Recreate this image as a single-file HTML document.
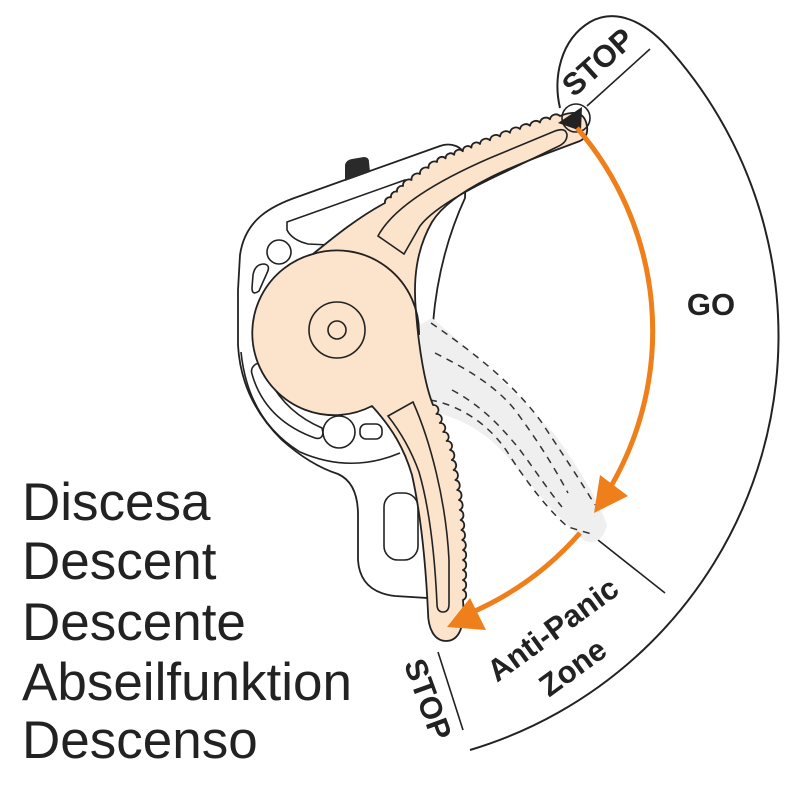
<!DOCTYPE html>
<html><head><meta charset="utf-8"><style>
html,body{margin:0;padding:0;background:#fff;}
svg{display:block;}
</style></head><body>
<svg width="800" height="800" viewBox="0 0 800 800" xmlns="http://www.w3.org/2000/svg">
<rect width="800" height="800" fill="#fff"/>

<!-- band outline -->
<path d="M 560,108 C 553,78 560,40 590,22 C 615,8 645,20 672,52 A 432 432 0 0 1 470,750" fill="none" stroke="#222" stroke-width="2"/>
<line x1="587" y1="106" x2="650" y2="49" stroke="#222" stroke-width="1.6"/>
<line x1="598" y1="540" x2="665" y2="593" stroke="#222" stroke-width="1.6"/>
<line x1="438" y1="652" x2="463" y2="730" stroke="#222" stroke-width="1.6"/>

<!-- plate -->
<path d="M 456,146 Q 448,143 440,146 L 300,196 C 270,206 245,220 240,255 L 238,290 L 238,345 Q 241,400 282,440 Q 310,465 338,474 Q 358,483 358,515 L 358,560 Q 360,592 395,596 L 428,598 L 425,400 L 433,323 C 437,275 448,235 465,198 L 466,160 Q 465,150 456,146 Z" fill="#fff" stroke="#222" stroke-width="1.8"/>
<path d="M 241,352 Q 248,420 300,452 Q 350,474 400,453" fill="none" stroke="#222" stroke-width="1.6"/>
<!-- black tab -->
<path d="M 345,181 L 345,165 Q 346,160 352,159 L 364,157 Q 369,157 369,162 L 370,172 Z" fill="#2a2a2a"/>
<!-- holes -->
<path d="M 287,222 L 405,180 L 420,200 L 330,245 L 308,244 Q 292,240 287,230 Z" fill="#fff" stroke="#222" stroke-width="1.6"/>
<circle cx="279" cy="252" r="12" fill="#fff" stroke="#222" stroke-width="1.6"/>
<path d="M 253,275 Q 255,264 264,264 Q 271,265 267,273 L 259,291 Q 252,296 252,288 Z" fill="#fff" stroke="#222" stroke-width="1.6"/>
<path d="M 256,364 Q 250,368 252,374 Q 265,420 315,438 Q 322,440 323,433 L 322,428 Q 280,410 264,368 Q 262,362 256,364 Z" fill="#fff" stroke="#222" stroke-width="1.6"/>
<circle cx="339" cy="432" r="16" fill="#fff" stroke="#222" stroke-width="1.6"/>
<rect x="360" y="424" width="22" height="15" rx="6" fill="#fff" stroke="#222" stroke-width="1.6"/>
<rect x="384" y="493" width="34" height="67" rx="14" fill="#fff" stroke="#222" stroke-width="1.6"/>

<!-- ghost lever -->
<path d="M 420,325 L 432,318 C 470,350 520,395 555,435 C 580,470 598,500 607,525 Q 602,546 585,541 C 560,520 535,490 510,460 C 490,435 460,415 422,410 Z" fill="#efefef"/>
<g fill="none" stroke="#333" stroke-width="1.5" stroke-dasharray="7 6">
<path d="M 431,323 C 470,350 510,380 540,420 C 560,450 580,480 595,505"/>
<path d="M 435,353 C 465,368 495,385 515,410 C 535,437 552,463 568,493"/>
<path d="M 452,390 C 480,405 500,425 520,450 C 535,470 548,490 562,507"/>
<path d="M 430,400 C 460,405 490,425 508,453 C 525,480 548,510 568,527 L 595,535"/>
</g>

<!-- lever -->
<path d="M 313,254 C 335,236 360,216 385,203
a5 5 0 0 1 6,-5.67 a5 5 0 0 1 6,-5.67 a5 5 0 0 1 6,-5.66
a6 6 0 0 1 8.5,-6 a6 6 0 0 1 8.5,-6 a6 6 0 0 1 8.5,-6 a6 6 0 0 1 8.5,-6
a5 5 0 0 1 8.6,-3.6 a5 5 0 0 1 8.6,-3.6 a5 5 0 0 1 8.6,-3.6 a5 5 0 0 1 8.6,-3.6 a5 5 0 0 1 8.6,-3.6
a6 6 0 0 1 10,-3.75 a6 6 0 0 1 10,-3.75 a6 6 0 0 1 10,-3.75 a6 6 0 0 1 10,-3.75
a6 6 0 0 1 10,-3.25 a6 6 0 0 1 10,-3.25 a6 6 0 0 1 10,-3.25 a6 6 0 0 1 10,-3.25
C 570,112 582,110 586,122 C 589,132 586,138 580,141
C 530,160 455,185 432,222 C 416,250 413,280 416,312 C 419,350 425,385 433,405
a5 5 0 0 1 3.4,9 a5 5 0 0 1 3.4,9 a5 5 0 0 1 3.4,9 a5 5 0 0 1 3.4,9 a5 5 0 0 1 3.4,9
a5.5 5.5 0 0 1 1.8,10 a5.5 5.5 0 0 1 1.8,10 a5.5 5.5 0 0 1 1.8,10 a5.5 5.5 0 0 1 1.8,10 a5.5 5.5 0 0 1 1.8,10
a5.5 5.5 0 0 1 0.8,10 a5.5 5.5 0 0 1 0.8,10 a5.5 5.5 0 0 1 0.8,10 a5.5 5.5 0 0 1 0.8,10 a5.5 5.5 0 0 1 0.8,10
a5.5 5.5 0 0 1 0,10 a5.5 5.5 0 0 1 0,10 a5.5 5.5 0 0 1 0,10 a5.5 5.5 0 0 1 0,10 a5.5 5.5 0 0 1 0,10
C 465,625 460,641 446,641 C 434,641 428,628 428,612
C 426,570 422,520 412,475 C 404,448 392,428 372,406
A 82 82 0 1 1 313,254 Z" fill="#fbe3cc" stroke="#222" stroke-width="1.8" stroke-linejoin="round"/>
<path d="M 313,254 A 82 82 0 0 1 419,335" fill="none" stroke="#222" stroke-width="1.8"/>
<circle cx="337" cy="330" r="28" fill="none" stroke="#222" stroke-width="1.6"/>
<circle cx="337" cy="330" r="9" fill="none" stroke="#222" stroke-width="1.6"/>
<path d="M 378,236 C 392,210 430,184 490,158 L 555,131 Q 566,127 567,135 Q 567,142 559,146 L 505,172 C 462,192 432,210 420,226 L 404,254 Z" fill="none" stroke="#222" stroke-width="1.6"/>
<path d="M 388,416 L 413,402 C 430,440 446,500 449,560 L 449,604 Q 449,612 443,612 Q 437,612 437,604 C 435,560 430,510 419,472 C 410,447 399,430 388,416 Z" fill="none" stroke="#222" stroke-width="1.6"/>

<!-- pivot -->
<circle cx="576" cy="118" r="14" fill="none" stroke="#222" stroke-width="1.6"/>
<polygon points="558,123 582,107 581,131" fill="#222"/>

<!-- orange arrows -->
<path d="M 577,128 A 310 310 0 0 1 610,488" fill="none" stroke="#ef7f1a" stroke-width="5"/>
<polygon points="594,513 600,475 628,496" fill="#ef7f1a"/>
<path d="M 580,533 A 308 308 0 0 1 468,614" fill="none" stroke="#ef7f1a" stroke-width="5"/>
<polygon points="447,627 470,598 486,630" fill="#ef7f1a"/>

<!-- labels -->
<g font-family="Liberation Sans, Arial, sans-serif" font-weight="bold" font-size="31" fill="#222" text-anchor="middle">
<text x="605" y="70" transform="rotate(-42 605 70)">STOP</text>
<text x="711" y="315">GO</text>
<text x="559" y="638" transform="rotate(-36 559 638)">Anti-Panic</text>
<text x="579" y="676" transform="rotate(-36 579 676)">Zone</text>
<text x="418" y="703" transform="rotate(70 418 703)">STOP</text>
</g>
<g font-family="Liberation Sans, Arial, sans-serif" font-size="53" fill="#222">
<text x="22" y="520">Discesa</text>
<text x="22" y="579">Descent</text>
<text x="22" y="640">Descente</text>
<text x="22" y="700">Abseilfunktion</text>
<text x="22" y="758">Descenso</text>
</g>
</svg>
</body></html>
